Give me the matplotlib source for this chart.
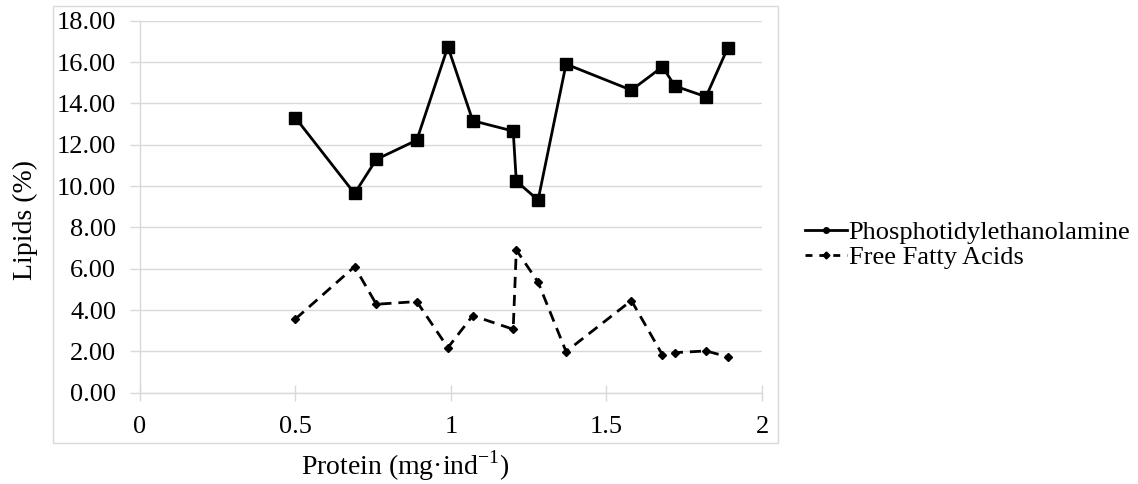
import matplotlib.pyplot as plt
from matplotlib.lines import Line2D
from matplotlib.patches import Rectangle

plt.rcParams["font.family"] = ["Liberation Serif", "DejaVu Serif"]

# data
protein = [0.50, 0.69, 0.76, 0.89, 0.99, 1.07, 1.20, 1.21, 1.28, 1.37, 1.58, 1.68, 1.72, 1.82, 1.89]
pe = [13.30, 9.64, 11.29, 12.22, 16.74, 13.16, 12.66, 10.24, 9.32, 15.90, 14.64, 15.77, 14.84, 14.32, 16.69]
ffa = [3.57, 6.10, 4.28, 4.41, 2.18, 3.73, 3.07, 6.91, 5.35, 1.99, 4.46, 1.83, 1.94, 2.02, 1.74]
x_ticks = [0, 0.5, 1, 1.5, 2]
x_tick_labels = ["0", "0.5", "1", "1.5", "2"]
y_ticks = [0, 2, 4, 6, 8, 10, 12, 14, 16, 18]

grid_col = "#d9d9d9"

fig = plt.figure(figsize=(11.38, 4.84), dpi=100)
ax = fig.add_axes([0.123, 0.1886, 0.5466, 0.7686])

# outer chart border
fig.patches.append(Rectangle((53 / 1138, 1 - 443 / 484), (778 - 53) / 1138, (443 - 6) / 484,
                             transform=fig.transFigure, fill=False, edgecolor=grid_col, linewidth=1))

ax.plot(protein, pe, color="black", linewidth=2, marker="s", markersize=8, zorder=3)
ax.plot(protein, ffa, color="black", linewidth=2, linestyle=(0, (4, 2.5)), marker="D",
        markersize=4.5, zorder=3)

ax.set_xlim(0, 2)
ax.set_ylim(0, 18)
ax.set_xticks(x_ticks)
ax.set_xticklabels(x_tick_labels)
ax.set_yticks(y_ticks)
ax.set_yticklabels([f"{v:.2f}" for v in y_ticks])
ax.yaxis.grid(True, color=grid_col, linewidth=1)
ax.set_axisbelow(True)

for s in ["top", "right"]:
    ax.spines[s].set_visible(False)
for s in ["left", "bottom"]:
    ax.spines[s].set_color(grid_col)
    ax.spines[s].set_linewidth(1)

ax.tick_params(axis="x", direction="inout", length=12, width=1, color=grid_col, labelsize=19, pad=11)
ax.tick_params(axis="y", direction="out", length=7, width=1, color=grid_col, labelsize=19, pad=10)

ax.set_ylabel("Lipids (%)", fontsize=20)
ax.yaxis.set_label_coords(-0.164, 0.464)
ax.set_xlabel("Protein (mg\u00b7ind$^{\\mathregular{-1}}$)", fontsize=20)
ax.xaxis.set_label_coords(0.426, -0.15)

handles = [
    Line2D([], [], color="black", linewidth=2, marker="o", markersize=4),
    Line2D([], [], color="black", linewidth=2, linestyle=(0, (2.5, 2.5)), marker="D", markersize=3.5),
]
fig.legend(handles, ["Phosphotidylethanolamine", "Free Fatty Acids"], loc="center left",
           bbox_to_anchor=(805 / 1138, 1 - 245 / 484), frameon=False, fontsize=19, handlelength=1.6,
           handletextpad=0.05, labelspacing=0.05, borderaxespad=0, borderpad=0)

fig.savefig("out.png", dpi=100)
